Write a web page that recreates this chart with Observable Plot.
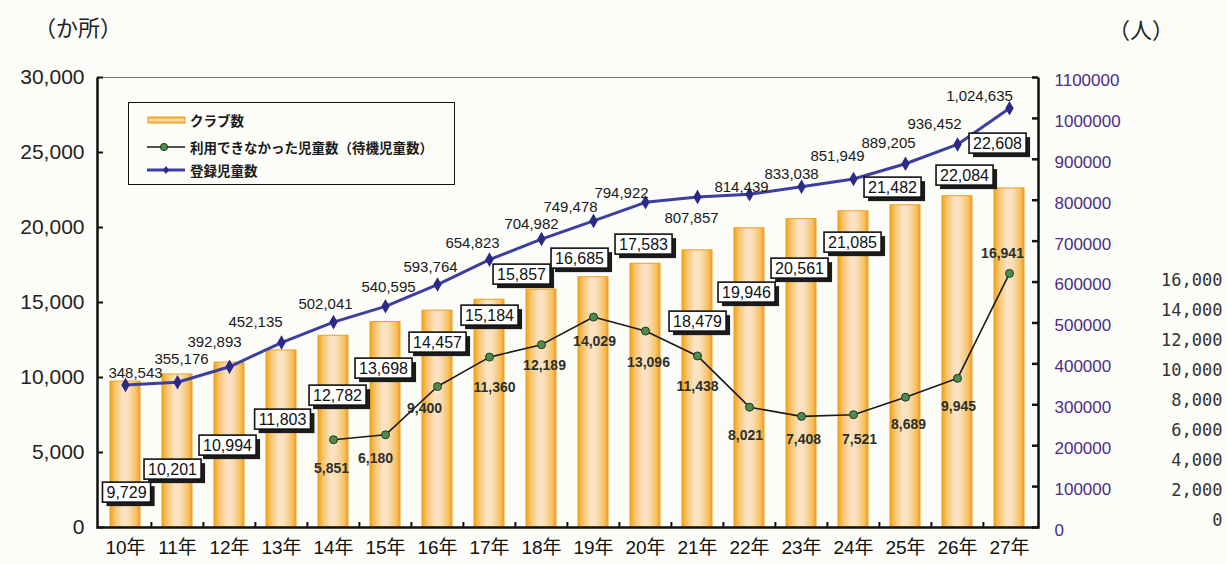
<!DOCTYPE html>
<html><head><meta charset="utf-8">
<script src="https://cdn.jsdelivr.net/npm/d3@7"></script>
<script src="https://cdn.jsdelivr.net/npm/@observablehq/plot@0.6"></script>
<style>
body{margin:0;background:#fcfcf8;}
#wrap{position:relative;width:1227px;height:564px;overflow:hidden;}
#wrap > svg{position:absolute;left:0;top:0;}
.unit{position:absolute;font-family:"Noto Sans CJK JP",sans-serif;font-size:22px;line-height:1;color:#222;white-space:nowrap;}
#legend{position:absolute;left:128px;top:102px;width:327px;height:83px;border:1.5px solid #111;box-sizing:border-box;font-family:"Noto Sans CJK JP",sans-serif;font-weight:700;font-size:13.5px;color:#1a1a1a;}
#legend .item{position:absolute;left:18px;height:20px;display:flex;align-items:center;white-space:nowrap;}
#legend .item svg{position:static;margin-right:3px;}
</style></head><body>
<div id="wrap">
  <div class="unit" style="left:34px;top:15px;">（か所）</div>
  <div class="unit" style="left:1108px;top:17px;">（人）</div>
  <div id="legend">
    <div class="item" style="top:7px;"><svg width="40" height="12"><defs><linearGradient id="lgGrad" x1="0" x2="0" y1="0" y2="1"><stop offset="0" stop-color="#F2A31A"/><stop offset="0.5" stop-color="#FBE2C2"/><stop offset="1" stop-color="#F2A31A"/></linearGradient></defs><rect x="1" y="3" width="37" height="6" fill="url(#lgGrad)" stroke="#F0A020" stroke-width="1"/></svg>クラブ数</div>
    <div class="item" style="top:34px;"><svg width="40" height="12"><line x1="0" x2="38" y1="6" y2="6" stroke="#1a1a1a" stroke-width="1.6"/><circle cx="17" cy="6" r="3.6" fill="#4E8B4E" stroke="#1d3a1d"/></svg>利用できなかった児童数（待機児童数）</div>
    <div class="item" style="top:57px;"><svg width="40" height="12"><line x1="0" x2="38" y1="6" y2="6" stroke="#3C3FA0" stroke-width="3"/><path d="M19,2 L22,6 L19,10 L16,6 Z" fill="#2B2B86"/></svg>登録児童数</div>
  </div>
</div>
<script>
// ---- data ----
const years = ["10年","11年","12年","13年","14年","15年","16年","17年","18年","19年","20年","21年","22年","23年","24年","25年","26年","27年"];
const clubs = [9729,10201,10994,11803,12782,13698,14457,15184,15857,16685,17583,18479,19946,20561,21085,21482,22084,22608];
const registered = [348543,355176,392893,452135,502041,540595,593764,654823,704982,749478,794922,807857,814439,833038,851949,889205,936452,1024635];
const waiting = [null,null,null,null,5851,6180,9400,11360,12189,14029,13096,11438,8021,7408,7521,8689,9945,16941];
const leftTicks = [0,5000,10000,15000,20000,25000,30000];
const rightTicks = [0,100000,200000,300000,400000,500000,600000,700000,800000,900000,1000000,1100000];
const waitTicks = [0,2000,4000,6000,8000,10000,12000,14000,16000];

// ---- label layout (annotation placement) ----
const clubLabelAt = [2333,3867,5467,7200,8800,10600,12333,14133,16867,17933,18867,13733,15667,17267,19000,22667,23467,25600];
const clubLabelDx = [1,-5,-2,1,4,-2,0,0,-20,-14,-2,0,-3,-2,-1,-13,7,-12];
const regLabelDx = [10,4,-15,-26,-8,3,-7,-17,-10,-23,-24,-6,-8,-10,-16,-17,-23,-30];
const regLabelDy = [-12,-23,-25,-20,-18,-19,-17,-16,-15,-14,-9,21,-7,-13,-23,-21,-20,-12];
const waitLabelDx = [0,0,0,0,-2,-10,-13,5,3,1,3,0,-4,2,6,3,1,-7];
const waitLabelDy = [0,0,0,0,29,24,22,30,21,24,31,31,28,23,25,27,28,-20];

const rows = years.map((year,i)=>({year, clubs:clubs[i], reg:registered[i], wait:waiting[i], lab:clubLabelAt[i], i}));
const waitRows = rows.filter(d=>d.wait!=null);

const W=1227,H=564,mL=97,mR=189,mT=77,mB=37;
const fw=W-mL-mR, fh=H-mT-mB;
const step=fw/18;
const K=30000/1100000;
const fmt=d3.format(",");
const ns="http://www.w3.org/2000/svg";
const BOXTEXT="#111112";

function defsMark(){
  const defs=document.createElementNS(ns,"defs");
  defs.innerHTML=`<linearGradient id="barGrad" x1="0" x2="1" y1="0" y2="0">
    <stop offset="0" stop-color="#F2A116"/>
    <stop offset="0.16" stop-color="#F6C36A"/>
    <stop offset="0.42" stop-color="#FBE3C4"/>
    <stop offset="0.6" stop-color="#FAE0BD"/>
    <stop offset="0.86" stop-color="#F6C36A"/>
    <stop offset="1" stop-color="#F2A116"/>
  </linearGradient>`;
  return defs;
}

const regLabels = rows.map((d,i)=>Plot.text([d],{x:"year",y:r=>r.reg*K,text:r=>fmt(r.reg),dx:regLabelDx[i],dy:regLabelDy[i],fontSize:15,letterSpacing:1.6,fill:"#1a1a1a"}));
const waitLabels = waitRows.map(d=>Plot.text([d],{x:"year",y:"wait",text:r=>fmt(r.wait),dx:waitLabelDx[d.i],dy:waitLabelDy[d.i],fontSize:14,fontWeight:"bold",fill:"#2a302a"}));
const clubLabels = rows.map((d,i)=>Plot.text([d],{x:"year",y:"lab",text:r=>fmt(r.clubs),dx:clubLabelDx[i],fontSize:16,letterSpacing:0.4,fill:BOXTEXT}));

const svg = Plot.plot({
  width:W,height:H,marginLeft:mL,marginRight:mR,marginTop:mT,marginBottom:mB,
  style:{background:"transparent",fontFamily:"'Liberation Sans','Noto Sans CJK JP',sans-serif",overflow:"visible"},
  x:{type:"band",domain:years,paddingInner:0.42,paddingOuter:0.21,axis:null},
  y:{domain:[0,30000],axis:null},
  marks:[
    defsMark,
    Plot.barY(rows,{x:"year",y:"clubs",fill:"url(#barGrad)",stroke:"#EFA01E",strokeWidth:1}),
    Plot.ruleY([30000],{stroke:"#777",strokeWidth:1}),
    Plot.frame({stroke:"#111",strokeWidth:2.5,strokeDasharray:`0 ${fw} ${2*fh+fw}`}),
    Plot.tickY(leftTicks,{y:d=>d,stroke:"#111",strokeWidth:2,insetRight:fw-6}),
    Plot.text(leftTicks,{y:d=>d,text:d=>fmt(d),frameAnchor:"left",textAnchor:"end",dx:-13,fontSize:21,letterSpacing:1.2,fill:"#222"}),
    Plot.tickY(rightTicks,{y:d=>d*K,stroke:"#111",strokeWidth:2.5,insetLeft:fw-6}),
    Plot.text(rightTicks,{y:d=>d*K,text:d=>String(d),frameAnchor:"right",textAnchor:"start",dx:16,dy:3,fontSize:17,fill:"#4B2E83"}),
    Plot.text(waitTicks,{y:d=>d,text:d=>fmt(d),frameAnchor:"right",textAnchor:"end",dx:184,dy:-7,fontSize:17,fontFamily:"'DejaVu Sans Mono',monospace",fill:"#333"}),
    Plot.ruleX(years.slice(1),{x:d=>d,dx:-step/2,y1:0,y2:330,stroke:"#111",strokeWidth:2}),
    Plot.text(years,{x:d=>d,text:d=>d,frameAnchor:"bottom",dy:26,fontSize:19,letterSpacing:2,fill:"#111"}),
    Plot.line(rows,{x:"year",y:d=>d.reg*K,stroke:"#3C3FA0",strokeWidth:3}),
    Plot.dot(rows,{x:"year",y:d=>d.reg*K,symbol:"diamond",r:3.5,fill:"#2B2B86",stroke:"#2B2B86"}),
    Plot.line(waitRows,{x:"year",y:"wait",stroke:"#1a1a1a",strokeWidth:1.6}),
    Plot.dot(waitRows,{x:"year",y:"wait",r:4,fill:"#4E8B4E",stroke:"#1d3a1d",strokeWidth:1}),
    ...regLabels,
    ...waitLabels,
    ...clubLabels
  ]
});
const wrap=document.getElementById("wrap");
wrap.insertBefore(svg, wrap.firstChild);

// boxes with drop shadow behind club-count labels
svg.querySelectorAll('text').forEach(t=>{
  const g=t.parentNode;
  const f=(t.getAttribute("fill")||g.getAttribute("fill")||"").toLowerCase();
  if(f!==BOXTEXT) return;
  const b=t.getBBox(); const tr=t.getAttribute("transform");
  const mk=(x,y,w,h,fill,stroke)=>{const r=document.createElementNS(ns,"rect");
    r.setAttribute("x",x);r.setAttribute("y",y);r.setAttribute("width",w);r.setAttribute("height",h);
    r.setAttribute("fill",fill);r.setAttribute("stroke",stroke);r.setAttribute("stroke-width",1.6);
    if(tr) r.setAttribute("transform",tr); return r;};
  const px=4,py=1.5;
  const sh=mk(b.x-px+4,b.y-py+4,b.width+2*px,b.height+2*py,"#1b1b1b","none");
  const bx=mk(b.x-px,b.y-py,b.width+2*px,b.height+2*py,"#ffffff","#111");
  g.insertBefore(sh,t); g.insertBefore(bx,t);
});
</script>
</body></html>
